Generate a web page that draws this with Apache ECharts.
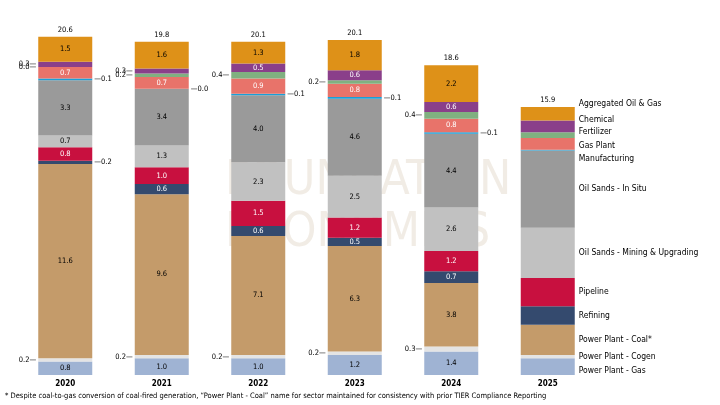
<!DOCTYPE html>
<html style="height: 100%; margin: 0;">
<head>
<meta charset="utf-8" />
<script src="https://cdn.jsdelivr.net/npm/echarts@6/dist/echarts.min.js"></script>
</head>
<body style="height: 100%; margin: 0; background:#fff;">
<div id="main" style="width: 720px;height:405px;"></div>
<script type="text/javascript">
var years = ['2020', '2021', '2022', '2023', '2024', '2025'];
var totals = [20.6, 19.8, 20.1, 20.1, 18.6, 15.9];
// bottom to top
var sectors = ['Power Plant - Gas', 'Power Plant - Cogen', 'Power Plant - Coal*', 'Refining', 'Pipeline',
  'Oil Sands - Mining & Upgrading', 'Oil Sands - In Situ', 'Manufacturing', 'Gas Plant', 'Fertilizer', 'Chemical', 'Aggregated Oil & Gas'];
var ppGas = [0.8, 1.0, 1.0, 1.2, 1.4, 1.0];
var ppCogen = [0.2, 0.2, 0.2, 0.2, 0.3, 0.2];
var ppCoal = [11.6, 9.6, 7.1, 6.3, 3.8, 1.8];
var refining = [0.2, 0.6, 0.6, 0.5, 0.7, 1.1];
var pipeline = [0.8, 1.0, 1.5, 1.2, 1.2, 1.7];
var mining = [0.7, 1.3, 2.3, 2.5, 2.6, 3.0];
var inSitu = [3.3, 3.4, 4.0, 4.6, 4.4, 4.6];
var manufacturing = [0.1, 0.0, 0.1, 0.1, 0.1, 0.05];
var gasPlant = [0.7, 0.7, 0.9, 0.8, 0.8, 0.7];
var fertilizer = [0.0, 0.2, 0.4, 0.2, 0.4, 0.35];
var chemical = [0.3, 0.3, 0.5, 0.6, 0.6, 0.7];
var aggregated = [1.5, 1.6, 1.3, 1.8, 2.2, 0.8];

var seriesData = [ppGas, ppCogen, ppCoal, refining, pipeline, mining, inSitu, manufacturing, gasPlant, fertilizer, chemical, aggregated];
var colors = ['#9fb3d3', '#e4e4e4', '#c49b6a', '#344a6e', '#c8103f', '#c1c1c1', '#9a9a9a', '#1a9fd8', '#e8736a', '#80b080', '#8a3f8a', '#de9118'];
var whiteText = [false, false, false, true, true, false, false, false, true, false, true, false];
var legendOffset = [4, 0, 0, 0, 0, 0, 0, 9, 2, -3, -7, -10];
var smallSide = [1, 0, 0, 1, 1, 1, 1, 1, 0, 0, 0, 0];

var font = 'DejaVu Sans Condensed';
var myChart = echarts.init(document.getElementById('main'));
var series = seriesData.map(function (vals, s) {
  return {
    name: sectors[s], type: 'bar', stack: 'all', barWidth: 54,
    itemStyle: { color: colors[s] },
    data: vals.map(function (v, i) {
      var d = { value: v };
      if (i === 5) {
        d.label = { show: true, position: 'right', distance: 4, offset: [0, legendOffset[s]],
          formatter: sectors[s], color: '#000', fontSize: 8.5, fontFamily: font };
      } else if (v < 0.45) {
        d.label = { show: true, position: smallSide[s] ? 'right' : 'left', distance: 2,
          formatter: smallSide[s] ? '\u2014' + v.toFixed(1) : v.toFixed(1) + '\u2014',
          color: '#000', fontSize: 7.5, fontFamily: font };
      } else {
        d.label = { show: true, position: 'inside', formatter: v.toFixed(1),
          color: whiteText[s] ? '#fff' : '#000', fontSize: 7.5, fontFamily: font };
      }
      return d;
    })
  };
});
series.push({
  name: 'total', type: 'bar', stack: 'all', barWidth: 54,
  data: totals.map(function () { return 0; }),
  label: { show: true, position: 'top', distance: 3, color: '#000', fontSize: 7.5, fontFamily: font,
    formatter: function (p) { return totals[p.dataIndex].toFixed(1); } }
});

myChart.setOption({
  animation: false,
  textStyle: { fontFamily: font },
  grid: { left: 17, right: 124, top: 20, bottom: 30 },
  xAxis: { type: 'category', data: years,
    axisLine: { show: false }, axisTick: { show: false },
    axisLabel: { color: '#000', fontSize: 8, fontWeight: 'bold', margin: 5 } },
  yAxis: { type: 'value', min: 0, max: 21.2, show: false, splitLine: { show: false } },
  graphic: [
    { type: 'text', left: 225, top: 158, z: 0, silent: true,
      style: { text: 'FOUNDATION', fontSize: 48, fontFamily: font, fill: 'rgba(215,200,180,0.35)' } },
    { type: 'text', left: 225, top: 210, z: 0, silent: true,
      style: { text: 'ECONOMICS', fontSize: 48, fontFamily: font, fill: 'rgba(215,200,180,0.35)' } },
    { type: 'text', left: 5, top: 392,
      style: { text: '* Despite coal-to-gas conversion of coal-fired generation, \u201cPower Plant - Coal\u201d name for sector maintained for consistency with prior TIER Compliance Reporting',
        fontSize: 7.5, fontFamily: font, fill: '#000' } }
  ],
  series: series
});
</script>
</body>
</html>
